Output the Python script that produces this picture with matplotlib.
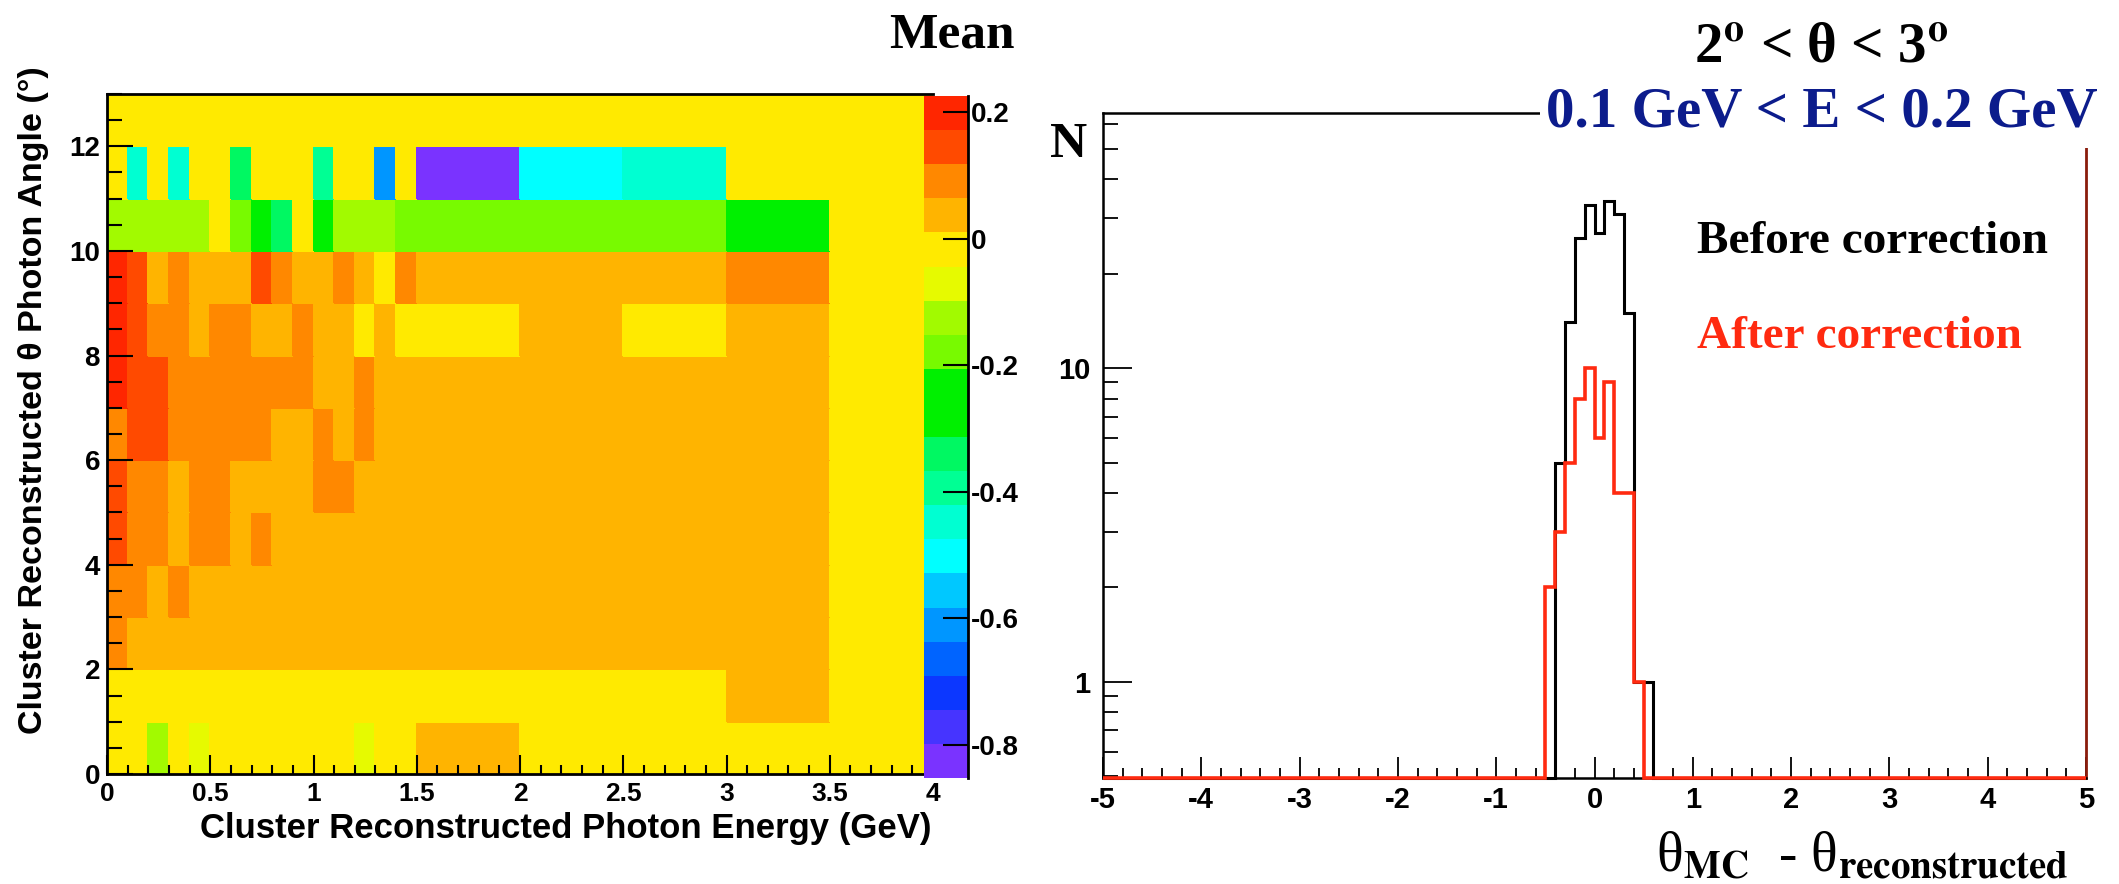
import matplotlib as mpl
import matplotlib.pyplot as plt
import numpy as np
from matplotlib.colors import ListedColormap, BoundaryNorm
from matplotlib.patches import Rectangle
from matplotlib.ticker import FixedLocator, NullFormatter

mpl.rcParams['axes.unicode_minus'] = False
mpl.rcParams['mathtext.fontset'] = 'stix'
mpl.rcParams['font.family'] = 'Liberation Sans'
mpl.rcParams['font.weight'] = 'bold'

W, H = 2119, 884

# ---- left panel: mean of theta_MC - theta_rec per (E, theta) cell ----
e_edges = [0.0, 0.1, 0.2, 0.3, 0.4, 0.5, 0.6, 0.7, 0.8, 0.9, 1.0,
           1.1, 1.2, 1.3, 1.4, 1.5, 2.0, 2.5, 3.0, 3.5, 4.0]
theta_edges = [0, 1, 2, 3, 4, 5, 6, 7, 8, 9, 10, 11, 12, 13]

# rows from theta = 0 (bottom) to theta = 12 (top)
mean_vals = [
    [0, 0, -0.12, 0, -0.07, 0, 0, 0, 0, 0, 0, 0, -0.07, 0, 0, 0.04, 0, 0, 0, 0],
    [0, 0, 0, 0, 0, 0, 0, 0, 0, 0, 0, 0, 0, 0, 0, 0, 0, 0, 0.04, 0],
    [0.09, 0.04, 0.04, 0.04, 0.04, 0.04, 0.04, 0.04, 0.04, 0.04, 0.04, 0.04, 0.04, 0.04, 0.04, 0.04, 0.04, 0.04, 0.04, 0],
    [0.09, 0.09, 0.04, 0.09, 0.04, 0.04, 0.04, 0.04, 0.04, 0.04, 0.04, 0.04, 0.04, 0.04, 0.04, 0.04, 0.04, 0.04, 0.04, 0],
    [0.15, 0.09, 0.09, 0.04, 0.09, 0.09, 0.04, 0.09, 0.04, 0.04, 0.04, 0.04, 0.04, 0.04, 0.04, 0.04, 0.04, 0.04, 0.04, 0],
    [0.15, 0.09, 0.09, 0.04, 0.09, 0.09, 0.04, 0.04, 0.04, 0.04, 0.09, 0.09, 0.04, 0.04, 0.04, 0.04, 0.04, 0.04, 0.04, 0],
    [0.09, 0.15, 0.15, 0.09, 0.09, 0.09, 0.09, 0.09, 0.04, 0.04, 0.09, 0.04, 0.09, 0.04, 0.04, 0.04, 0.04, 0.04, 0.04, 0],
    [0.20, 0.15, 0.15, 0.09, 0.09, 0.09, 0.09, 0.09, 0.09, 0.09, 0.04, 0.04, 0.09, 0.04, 0.04, 0.04, 0.04, 0.04, 0.04, 0],
    [0.20, 0.15, 0.09, 0.09, 0.04, 0.09, 0.09, 0.04, 0.04, 0.09, 0.04, 0.04, 0, 0.04, 0, 0, 0.04, 0, 0.04, 0],
    [0.20, 0.15, 0.04, 0.09, 0.04, 0.04, 0.04, 0.15, 0.09, 0.04, 0.04, 0.09, 0.04, 0, 0.09, 0.04, 0.04, 0.04, 0.09, 0],
    [-0.12, -0.12, -0.12, -0.12, -0.12, 0, -0.18, -0.23, -0.34, 0, -0.23, -0.12, -0.12, -0.12, -0.18, -0.18, -0.18, -0.18, -0.23, 0],
    [0, -0.45, 0, -0.45, 0, 0, -0.34, 0, 0, 0, -0.39, 0, 0, -0.61, 0, -0.83, -0.50, -0.45, 0, 0],
    [0, 0, 0, 0, 0, 0, 0, 0, 0, 0, 0, 0, 0, 0, 0, 0, 0, 0, 0, 0],
]
z_min, z_max = -0.852, 0.2253

# old ROOT "pretty" palette, 20 contours (low -> high)
palette = ['#7a33ff', '#4634ff', '#0c37ff', '#0064ff', '#0096ff', '#00c8ff',
           '#00ffff', '#00ffd2', '#00ff94', '#00f862', '#00f000', '#00f000',
           '#78fa00', '#a2fa00', '#e6fa00', '#ffea00', '#ffb400', '#ff8800',
           '#ff4a00', '#ff2600']

# ---- right panel: theta_MC - theta_rec, log scale ----
hist_lo, hist_hi, hist_w = -5.0, 5.0, 0.1
peak_first_bin = -0.5
n_before = [0, 5, 14, 26, 33, 27, 34, 31, 15, 1, 1]
n_after = [2, 3, 5, 8, 10, 6, 9, 4, 4, 1, 0]
y_lo, y_hi = 0.494, 65


def fx(x):
    return x / W


def fy(y):
    return 1 - y / H


fig = plt.figure(figsize=(W / 100, H / 100), dpi=100)

# heatmap
ax1 = fig.add_axes([fx(107), fy(774), fx(933) - fx(107), fy(94) - fy(774)])
cmap = ListedColormap(palette)
norm = BoundaryNorm(np.linspace(z_min, z_max, len(palette) + 1), cmap.N)
mesh = ax1.pcolormesh(e_edges, theta_edges, np.array(mean_vals), cmap=cmap,
                      norm=norm, edgecolors='face', linewidth=0.3)
ax1.set_xlim(0, 4)
ax1.set_ylim(0, 13)
ax1.set_xticks([0, 0.5, 1, 1.5, 2, 2.5, 3, 3.5, 4])
ax1.set_xticklabels(['0', '0.5', '1', '1.5', '2', '2.5', '3', '3.5', '4'])
ax1.set_yticks([0, 2, 4, 6, 8, 10, 12])
ax1.set_yticklabels(['0', '2', '4', '6', '8', '10', '12'])
ax1.xaxis.set_minor_locator(FixedLocator(np.arange(0, 4.01, 0.1)))
ax1.yaxis.set_minor_locator(FixedLocator(np.arange(0, 13.01, 0.5)))
ax1.tick_params(axis='x', which='major', direction='in', length=14, width=1.5,
                labelsize=19, pad=6, top=False)
ax1.tick_params(axis='x', which='minor', direction='in', length=6.5, width=1.5, top=False)
ax1.tick_params(axis='y', which='major', direction='in', length=19, width=1.5,
                labelsize=20, pad=5, right=False)
ax1.tick_params(axis='y', which='minor', direction='in', length=11, width=1.5, right=False)
for s in ['left', 'bottom', 'top']:
    ax1.spines[s].set_linewidth(2)
ax1.spines['right'].set_visible(False)

fig.text(fx(931), fy(838), 'Cluster Reconstructed Photon Energy (GeV)',
         ha='right', va='baseline', fontsize=25, fontweight='bold')
fig.text(fx(34), fy(66), 'Cluster Reconstructed θ Photon Angle (°)',
         rotation=90, rotation_mode='anchor', ha='right', va='center',
         fontsize=24.5, fontweight='bold')

# palette axis
cax = fig.add_axes([fx(924), fy(778), fx(968) - fx(924), fy(96) - fy(778)], zorder=5)
cb = fig.colorbar(mesh, cax=cax, ticks=[0.2, 0, -0.2, -0.4, -0.6, -0.8])
cb.outline.set_visible(False)
cax.set_yticklabels(['0.2', '0', '-0.2', '-0.4', '-0.6', '-0.8'])
cax.yaxis.set_ticks_position('right')
cax.tick_params(axis='y', direction='in', length=18, width=1.5, labelsize=20, pad=2)
cax.minorticks_off()
cax.spines['right'].set_visible(True)
cax.spines['right'].set_linewidth(2)

fig.text(fx(952), fy(48), 'Mean', ha='center', va='baseline',
         fontsize=37, fontweight='bold', family='Liberation Serif')

# histogram
edges = np.round(np.arange(hist_lo, hist_hi + hist_w / 2, hist_w), 2)
cnt_before = np.zeros(len(edges) - 1)
cnt_after = np.zeros(len(edges) - 1)
i0 = int(round((peak_first_bin - hist_lo) / hist_w))
cnt_before[i0:i0 + len(n_before)] = n_before
cnt_after[i0:i0 + len(n_after)] = n_after

ax2 = fig.add_axes([fx(1103), fy(778), fx(2086) - fx(1103), fy(113) - fy(778)])
ax2.set_yscale('log')
ax2.stairs(np.clip(cnt_before, y_lo, None), edges, baseline=None, color='black',
           lw=2.2, clip_on=False, zorder=2)
ax2.stairs(np.clip(cnt_after, y_lo, None), edges, baseline=None, color='#ff2a10',
           lw=2.6, clip_on=False, zorder=3)
ax2.set_xlim(hist_lo, hist_hi)
ax2.set_ylim(y_lo, y_hi)
ax2.set_xticks(np.arange(-5, 6, 1))
ax2.set_xticklabels(['-5', '-4', '-3', '-2', '-1', '0', '1', '2', '3', '4', '5'])
ax2.xaxis.set_minor_locator(FixedLocator(np.arange(-5, 5.01, 0.2)))
ax2.yaxis.set_major_locator(FixedLocator([1, 10]))
ax2.yaxis.set_major_formatter(mpl.ticker.FixedFormatter(['1', '10']))
ax2.yaxis.set_minor_locator(FixedLocator([0.5, 0.6, 0.7, 0.8, 0.9, 2, 3, 4, 5, 6, 7, 8, 9,
                                          20, 30, 40, 50, 60]))
ax2.yaxis.set_minor_formatter(NullFormatter())
ax2.tick_params(axis='x', which='major', direction='in', length=15, width=1.3,
                labelsize=21, pad=6, top=False)
ax2.tick_params(axis='x', which='minor', direction='in', length=7, width=1.3, top=False)
ax2.tick_params(axis='y', which='major', direction='in', length=21, width=1.3,
                labelsize=21, pad=9, right=False)
ax2.tick_params(axis='y', which='minor', direction='in', length=11, width=1.3, right=False)
for s in ['left', 'bottom', 'top']:
    ax2.spines[s].set_linewidth(1.8)
ax2.spines['right'].set_color('#8a1c0c')
ax2.spines['right'].set_linewidth(2)

# white slide box behind the energy range text
fig.patches.append(Rectangle((fx(1540), fy(148)), fx(W) - fx(1540), fy(70) - fy(148),
                             transform=fig.transFigure, facecolor='white',
                             edgecolor='none', zorder=10))

serif = 'Liberation Serif'
fig.text(fx(1694), fy(62), '2$^{\\mathbf{o}}$ < θ < 3$^{\\mathbf{o}}$', ha='left',
         va='baseline', fontsize=41, fontweight='bold', family=serif, zorder=11)
fig.text(fx(1546), fy(127), '0.1 GeV < E < 0.2 GeV', ha='left', va='baseline',
         fontsize=41, fontweight='bold', family=serif, color='#0c1c8c', zorder=11)
fig.text(fx(1050), fy(157), 'N', ha='left', va='baseline', fontsize=37,
         fontweight='bold', family=serif)
fig.text(fx(1697), fy(253), 'Before correction', ha='left', va='baseline',
         fontsize=34, fontweight='bold', family=serif, color='black')
fig.text(fx(1697), fy(348), 'After correction', ha='left', va='baseline',
         fontsize=34, fontweight='bold', family=serif, color='#ff2a10')
fig.text(fx(1656), fy(872), 'θ$_{\\mathbf{MC}}$  - θ$_{\\mathbf{reconstructed}}$',
         ha='left', va='baseline', fontsize=40, fontweight='normal', family=serif)

fig.savefig('out.png', dpi=100)
